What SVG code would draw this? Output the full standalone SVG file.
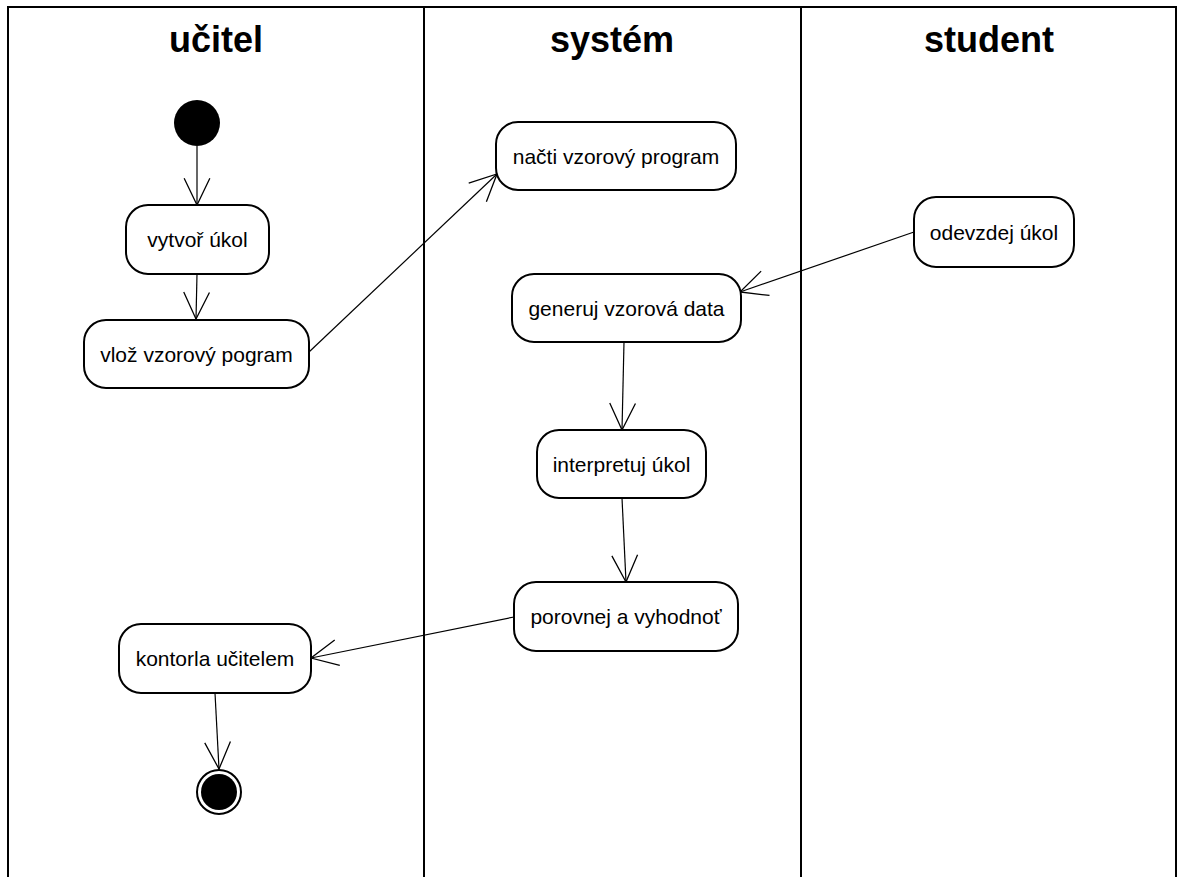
<svg xmlns="http://www.w3.org/2000/svg" width="1180" height="877" viewBox="0 0 1180 877">
<style>
.lane{fill:none;stroke:#000;stroke-width:2}
.title{font-family:"Liberation Sans",Arial,sans-serif;font-weight:bold;font-size:36px;text-anchor:middle;fill:#000}
.node rect{fill:#fff;stroke:#000;stroke-width:2}
.node text{font-family:"Liberation Sans",Arial,sans-serif;font-size:21px;text-anchor:middle;fill:#000}
.edge{fill:none;stroke:#000;stroke-width:1.2;marker-end:url(#arr)}
</style>
<defs>
<marker id="arr" markerUnits="userSpaceOnUse" markerWidth="30" markerHeight="30" viewBox="-26 -14 28 28" refX="0" refY="0" orient="auto">
<path d="M-25,-12 L0,0 L-25,12" fill="none" stroke="#000" stroke-width="1.2"/>
</marker>
</defs>
<rect width="1180" height="877" fill="#fff"/>
<g id="lanes">
<path class="lane" d="M8,878 V7 H1176 V878"/>
<line class="lane" x1="424" y1="7" x2="424" y2="878"/>
<line class="lane" x1="801" y1="7" x2="801" y2="878"/>
<text class="title" x="216" y="52">učitel</text>
<text class="title" x="612" y="52">systém</text>
<text class="title" x="989" y="52">student</text>
</g>
<g id="connectors">
<line class="edge" x1="197" y1="146" x2="197" y2="205"/>
<line class="edge" x1="197" y1="274" x2="196" y2="319"/>
<line class="edge" x1="309" y1="352" x2="497" y2="174"/>
<line class="edge" x1="914" y1="232" x2="740" y2="292"/>
<line class="edge" x1="624" y1="342" x2="622" y2="430"/>
<line class="edge" x1="622" y1="498" x2="626" y2="582"/>
<line class="edge" x1="514" y1="617" x2="311" y2="658"/>
<line class="edge" x1="215" y1="693" x2="219" y2="769"/>
</g>
<g id="start"><circle cx="197" cy="123" r="23" fill="#000"/></g>
<g id="n1" class="node"><rect x="126" y="205" width="143" height="69" rx="22"/><text x="197.5" y="247">vytvoř úkol</text></g>
<g id="n2" class="node"><rect x="84" y="320" width="225" height="68" rx="22"/><text x="196.5" y="362">vlož vzorový pogram</text></g>
<g id="n3" class="node"><rect x="496" y="122" width="240" height="68" rx="22"/><text x="616" y="164">načti vzorový program</text></g>
<g id="n4" class="node"><rect x="914" y="197" width="160" height="70" rx="22"/><text x="994" y="239.5">odevzdej úkol</text></g>
<g id="n5" class="node"><rect x="512" y="274" width="229" height="68" rx="22"/><text x="626.5" y="315.5">generuj vzorová data</text></g>
<g id="n6" class="node"><rect x="537" y="430" width="169" height="68" rx="22"/><text x="621.5" y="471.5">interpretuj úkol</text></g>
<g id="n7" class="node"><rect x="514" y="582" width="224" height="69" rx="22"/><text x="626" y="624">porovnej a vyhodnoť</text></g>
<g id="n8" class="node"><rect x="119" y="624" width="192" height="69" rx="22"/><text x="215" y="666">kontorla učitelem</text></g>
<g id="end"><circle cx="219" cy="792" r="22" fill="#fff" stroke="#000" stroke-width="2"/><circle cx="219" cy="792" r="18" fill="#000"/></g>
</svg>
